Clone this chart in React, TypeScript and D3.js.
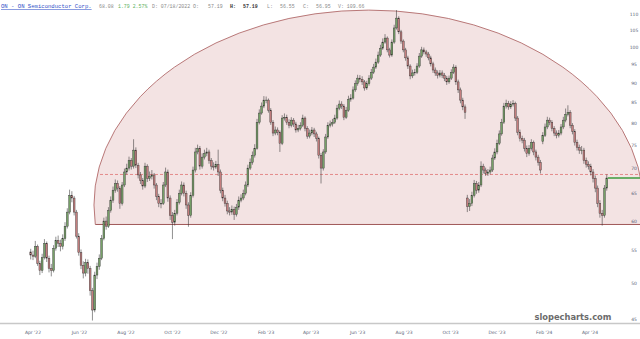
import React from "react";
import * as d3 from "d3";

const W = 640;
const H = 339;

// candle series: one candle every `stepDays` calendar days from startDate
const startDate = "2022-03-29";
const stepDays = 3;

const opens = [
  54.8,54.3,54.1,55.7,53.0,51.9,53.9,56.2,53.8,52.2,
  51.9,55.4,56.7,56.2,55.7,57.0,59.1,61.6,64.7,64.2,
  61.6,57.4,54.7,52.7,51.5,53.1,52.2,48.9,46.2,51.2,
  52.5,53.8,57.0,60.0,59.1,61.9,63.8,65.7,67.0,66.1,
  63.2,66.7,69.3,70.1,71.7,70.5,73.9,70.7,68.7,67.6,
  66.5,70.5,68.0,68.4,68.7,66.7,64.5,63.2,63.2,66.7,
  69.3,64.2,61.0,59.8,61.4,63.4,65.1,66.7,65.1,62.9,
  61.0,64.7,69.7,73.5,74.3,70.5,72.4,73.2,73.5,71.7,
  70.5,70.3,70.9,69.3,65.7,64.2,63.2,61.8,61.6,62.1,
  61.2,62.5,63.8,64.2,65.1,66.7,70.1,71.3,72.8,74.3,
  80.2,82.4,84.1,85.6,85.6,83.1,80.2,77.7,78.4,77.9,
  75.4,81.2,81.4,80.2,79.5,80.7,79.8,78.4,78.8,79.5,
  81.2,78.8,77.0,77.7,78.4,77.5,76.5,72.8,70.1,73.5,
  76.8,79.5,79.8,80.2,81.2,83.6,84.6,84.1,81.4,83.1,
  85.8,86.1,88.2,89.8,91.3,91.0,90.3,88.7,89.8,91.3,
  92.9,94.3,95.7,97.7,99.7,101.5,102.7,99.2,97.7,101.5,
  105.8,108.9,104.6,101.8,99.2,96.9,94.6,91.9,92.7,92.9,
  94.6,97.4,99.2,98.6,98.0,96.9,95.2,93.5,92.7,92.1,
  92.7,92.1,91.3,90.3,91.3,92.9,94.3,90.3,88.2,85.6,
  83.9,64.2,62.6,63.2,64.7,67.0,65.7,66.7,70.5,69.7,
  69.0,69.3,69.7,72.2,73.5,75.4,77.5,80.2,84.1,84.8,
  83.9,84.6,84.8,81.2,77.9,76.5,76.1,74.3,73.2,74.3,
  75.6,73.5,72.4,71.3,75.8,77.2,79.1,80.7,80.2,78.8,
  77.7,77.2,77.7,79.1,80.7,82.1,82.6,79.5,78.1,75.6,
  74.5,73.9,73.9,71.7,70.9,70.5,69.3,68.0,66.1,63.2,
  61.4,61.0,66.1,
];

const closes = [
  54.3,54.1,55.7,53.0,51.9,53.9,56.2,53.8,52.2,51.9,
  55.4,56.7,56.2,55.7,57.0,59.1,61.6,64.7,64.2,61.6,
  57.4,54.7,52.7,51.5,53.1,52.2,48.9,46.2,51.2,52.5,
  53.8,57.0,60.0,59.1,61.9,63.8,65.7,67.0,66.1,63.2,
  66.7,69.3,70.1,71.7,70.5,73.9,70.7,68.7,67.6,66.5,
  70.5,68.0,68.4,68.7,66.7,64.5,63.2,63.2,66.7,69.3,
  64.2,61.0,59.8,61.4,63.4,65.1,66.7,65.1,62.9,61.0,
  64.7,69.7,73.5,74.3,70.5,72.4,73.2,73.5,71.7,70.5,
  70.3,70.9,69.3,65.7,64.2,63.2,61.8,61.6,62.1,61.2,
  62.5,63.8,64.2,65.1,66.7,70.1,71.3,72.8,74.3,80.2,
  82.4,84.1,85.6,85.6,83.1,80.2,77.7,78.4,77.9,75.4,
  81.2,81.4,80.2,79.5,80.7,79.8,78.4,78.8,79.5,81.2,
  78.8,77.0,77.7,78.4,77.5,76.5,72.8,70.1,73.5,76.8,
  79.5,79.8,80.2,81.2,83.6,84.6,84.1,81.4,83.1,85.8,
  86.1,88.2,89.8,91.3,91.0,90.3,88.7,89.8,91.3,92.9,
  94.3,95.7,97.7,99.7,101.5,102.7,99.2,97.7,101.5,105.8,
  108.9,104.6,101.8,99.2,96.9,94.6,91.9,92.7,92.9,94.6,
  97.4,99.2,98.6,98.0,96.9,95.2,93.5,92.7,92.1,92.7,
  92.1,91.3,90.3,91.3,92.9,94.3,90.3,88.2,85.6,83.9,
  82.6,62.6,63.2,64.7,67.0,65.7,66.7,70.5,69.7,69.0,
  69.3,69.7,72.2,73.5,75.4,77.5,80.2,84.1,84.8,83.9,
  84.6,84.8,81.2,77.9,76.5,76.1,74.3,73.2,74.3,75.6,
  73.5,72.4,71.3,69.7,77.2,79.1,80.7,80.2,78.8,77.7,
  77.2,77.7,79.1,80.7,82.1,82.6,79.5,78.1,75.6,74.5,
  73.9,73.9,71.7,70.9,70.5,69.3,68.0,66.1,63.2,61.4,
  61.0,66.1,68.08,
];

const highs = [
  55.3,55.0,56.6,56.0,53.4,54.5,56.9,56.5,54.2,52.9,
  55.9,57.3,57.5,56.8,57.7,59.8,62.3,65.8,65.5,64.6,
  62.0,57.9,55.2,53.3,53.7,53.6,52.6,49.3,51.7,53.1,
  54.4,57.6,60.6,60.8,62.5,64.5,66.4,67.8,67.6,66.5,
  67.3,70.0,71.0,72.5,72.2,76.3,74.5,71.2,69.3,68.1,
  71.2,70.9,69.4,69.7,69.1,67.1,65.0,64.0,67.3,70.2,
  69.8,64.7,61.6,62.0,64.0,65.8,67.4,67.2,65.6,63.4,
  65.3,70.4,74.4,75.1,74.8,73.2,74.0,74.4,74.0,72.2,
  71.3,71.6,74.0,69.8,66.2,64.8,63.7,62.5,62.8,62.6,
  63.1,64.5,64.9,65.8,67.4,70.8,72.1,73.6,75.2,81.0,
  83.3,85.0,86.6,86.5,86.0,83.6,80.7,79.2,79.0,78.3,
  81.9,82.3,82.0,80.9,81.4,81.2,80.3,79.6,80.2,82.0,
  81.6,79.3,78.5,79.1,78.9,78.0,76.9,73.3,74.1,77.5,
  80.2,80.6,81.0,82.0,84.4,85.5,85.3,84.6,83.9,86.7,
  87.1,89.1,90.7,92.2,92.1,91.8,90.8,90.6,92.1,93.8,
  95.2,96.7,98.7,100.7,102.6,103.9,103.2,99.8,102.3,106.8,
  111.5,109.5,105.2,102.3,99.8,97.5,95.1,93.6,93.8,95.4,
  98.3,100.1,99.9,99.2,98.6,97.5,95.8,94.2,93.4,93.5,
  93.4,92.7,91.9,92.0,93.7,95.1,94.8,90.9,88.8,86.2,
  84.5,64.8,64.0,65.4,67.7,67.5,67.3,71.5,71.0,70.2,
  69.9,70.4,72.9,74.3,76.2,78.3,81.0,84.9,85.7,85.4,
  85.3,85.6,85.2,81.7,78.5,77.1,76.6,74.9,75.0,76.3,
  76.0,74.0,72.9,71.8,77.9,79.9,81.5,81.3,80.7,79.3,
  78.3,78.4,79.8,81.5,83.5,84.3,83.1,80.0,78.6,76.2,
  75.1,74.8,74.4,72.3,71.5,71.0,69.9,68.6,66.6,63.8,
  62.0,66.7,68.8,
];

const lows = [
  53.6,53.5,53.8,52.6,51.2,51.5,53.6,53.2,51.6,51.0,
  51.6,55.0,55.6,54.9,55.2,56.6,58.7,61.2,63.4,61.0,
  57.0,54.2,52.1,50.7,51.0,51.4,48.2,44.8,45.9,50.6,
  52.0,53.5,56.7,58.5,58.8,61.5,63.3,65.2,65.4,62.2,
  62.8,66.3,68.8,69.6,69.8,70.0,70.1,68.0,66.9,65.8,
  66.1,67.3,67.5,67.8,66.0,63.8,62.5,62.3,62.9,66.3,
  63.5,60.2,56.9,59.2,61.0,63.0,64.7,64.5,62.2,59.0,
  60.6,64.3,69.2,73.0,69.8,70.0,71.9,72.6,71.0,69.8,
  69.6,69.9,68.5,65.1,63.6,62.6,61.2,61.0,61.1,60.2,
  60.8,62.0,63.4,63.8,64.7,66.3,69.7,70.8,72.3,74.0,
  79.7,82.0,83.6,84.8,82.5,79.6,77.0,77.2,77.2,73.5,
  75.0,80.6,79.6,78.8,79.0,79.1,77.8,77.9,78.3,79.1,
  78.1,76.4,76.5,77.2,76.8,75.8,72.1,67.0,69.6,73.1,
  76.4,79.0,79.2,79.8,80.8,83.1,83.4,80.7,81.0,82.7,
  85.2,85.7,87.7,89.3,90.2,89.5,88.0,88.2,89.3,90.8,
  92.4,93.8,95.2,97.2,99.2,101.0,98.5,97.0,97.2,101.0,
  105.3,103.9,101.0,98.5,96.1,93.8,91.0,91.3,92.0,92.4,
  94.1,96.9,97.9,97.2,96.2,94.5,92.7,91.9,91.2,91.5,
  91.3,90.5,89.5,89.8,90.8,92.4,89.5,87.4,84.8,83.1,
  81.0,61.6,61.8,62.7,64.3,65.0,65.2,66.3,69.0,68.5,
  68.5,68.8,69.3,71.8,73.0,75.0,77.1,79.8,83.5,83.2,
  83.4,84.0,80.5,77.2,75.8,75.4,73.6,72.4,72.7,73.8,
  72.8,71.7,70.6,69.0,75.2,76.8,78.6,79.5,78.1,77.0,
  76.5,76.7,77.2,78.6,80.2,81.6,78.8,77.4,74.9,73.8,
  73.1,73.0,71.0,70.2,69.8,68.6,67.2,65.3,62.5,60.6,
  59.2,60.6,65.6,
];

const priceTicks = [45, 50, 55, 60, 65, 70, 75, 80, 85, 90, 95, 100, 105, 110];
const monthTicks = [
  "2022-04-01", "2022-06-01", "2022-08-01", "2022-10-01", "2022-12-01",
  "2023-02-01", "2023-04-01", "2023-06-01", "2023-08-01", "2023-10-01",
  "2023-12-01", "2024-02-01", "2024-04-01",
];

const lastPrice = 68.08;
const dashedLevel = 68.8;
// arc (half-ellipse) annotation, in data terms
const arcStart = "2022-06-20";
const arcEnd = "2024-06-10";
const arcTopPrice = 111.5;
const arcCenterPrice = 62.9;
const arcBasePrice = 59.4;

const headerParts = [
  { t: "ON - ON Semiconductor Corp.", x: 1, c: "#2f4fc8", u: true, b: false, s: 5.6 },
  { t: "68.08", x: 99, c: "#8a8a8a", u: false, b: false, s: 4.9 },
  { t: "1.79 2.57%", x: 118, c: "#5db05d", u: false, b: false, s: 4.9 },
  { t: "D: 07/18/2022 O:", x: 152, c: "#8a8a8a", u: false, b: false, s: 4.9 },
  { t: "57.19", x: 208, c: "#8a8a8a", u: false, b: false, s: 4.9 },
  { t: "H:", x: 230, c: "#333333", u: false, b: true, s: 4.9 },
  { t: "57.19", x: 243, c: "#333333", u: false, b: true, s: 4.9 },
  { t: "L:", x: 267, c: "#8a8a8a", u: false, b: false, s: 4.9 },
  { t: "56.55", x: 280, c: "#8a8a8a", u: false, b: false, s: 4.9 },
  { t: "C:", x: 303, c: "#8a8a8a", u: false, b: false, s: 4.9 },
  { t: "56.95", x: 316, c: "#8a8a8a", u: false, b: false, s: 4.9 },
  { t: "V: 109.66", x: 338, c: "#8a8a8a", u: false, b: false, s: 4.9 },
];

export default function App() {
  const parse = d3.timeParse("%Y-%m-%d");
  const x = d3
    .scaleTime()
    .domain([parse("2022-04-01")!, parse("2024-04-01")!])
    .range([33, 590]);
  const y = d3.scaleLog().domain([45, 110]).range([319, 14.7]);
  const fmt = d3.timeFormat("%b '%y");

  const start = parse(startDate)!;
  const candles = closes.map((c, i) => ({
    date: d3.timeDay.offset(start, i * stepDays),
    o: opens[i],
    h: highs[i],
    l: lows[i],
    c,
  }));
  const last = candles[candles.length - 1];

  const axL = x(parse(arcStart)!);
  const axR = x(parse(arcEnd)!);
  const ecx = (axL + axR) / 2;
  const erx = (axR - axL) / 2;
  const ecy = y(arcCenterPrice);
  const ery = ecy - y(arcTopPrice);
  const baseY = y(arcBasePrice);

  const bodyW = 1.8;

  return (
    <svg
      width={W}
      height={H}
      viewBox={`0 0 ${W} ${H}`}
      style={{ position: "absolute", left: 0, top: 0, background: "#fff" }}
    >
      <defs>
        <clipPath id="arcClip">
          <rect x={0} y={0} width={W} height={baseY} />
        </clipPath>
        <clipPath id="ellClip">
          <ellipse cx={ecx} cy={ecy} rx={erx} ry={ery} />
        </clipPath>
      </defs>
      <rect x={0} y={0} width={W} height={H} fill="#ffffff" />

      {/* arc annotation */}
      <g clipPath="url(#arcClip)">
        <ellipse
          cx={ecx}
          cy={ecy}
          rx={erx}
          ry={ery}
          fill="#f3e3e3"
          stroke="#a85a5a"
          strokeWidth={0.8}
        />
      </g>
      <g clipPath="url(#ellClip)">
        <line x1={0} x2={W} y1={baseY} y2={baseY} stroke="#a05858" strokeWidth={1} />
        <line
          x1={0}
          x2={W}
          y1={y(dashedLevel)}
          y2={y(dashedLevel)}
          stroke="#e07272"
          strokeWidth={0.8}
          strokeDasharray="3,2"
        />
      </g>

      {/* candles */}
      <g>
        {candles.map((d, i) => {
          const cx = x(d.date);
          const up = d.c >= d.o;
          const top = y(Math.max(d.o, d.c));
          const bot = y(Math.min(d.o, d.c));
          return (
            <g key={i}>
              <line x1={cx} x2={cx} y1={y(d.h)} y2={y(d.l)} stroke="#333333" strokeWidth={0.55} />
              <rect
                x={cx - bodyW / 2}
                y={top}
                width={bodyW}
                height={Math.max(0.6, bot - top)}
                fill={up ? "#76a067" : "#c47e7e"}
                stroke="#333333"
                strokeWidth={0.4}
              />
            </g>
          );
        })}
      </g>

      {/* last price line */}
      <line
        x1={x(last.date) + 1}
        x2={W}
        y1={y(lastPrice)}
        y2={y(lastPrice)}
        stroke="#3d9b3d"
        strokeWidth={1.6}
      />

      {/* right price labels */}
      <g fontFamily="DejaVu Sans, sans-serif" fontSize={4.5} fill="#5a5f78" textAnchor="middle">
        {priceTicks.map((p) => (
          <text key={p} x={634} y={y(p) + 1.6}>
            {p}
          </text>
        ))}
      </g>

      {/* bottom axis */}
      <line x1={0} x2={W} y1={323.5} y2={323.5} stroke="#c8c8c8" strokeWidth={1.5} />
      <g fontFamily="DejaVu Sans, sans-serif" fontSize={4.5} fill="#5a5f78" textAnchor="middle">
        {monthTicks.map((m) => (
          <text key={m} x={x(parse(m)!)} y={333.5}>
            {fmt(parse(m)!)}
          </text>
        ))}
      </g>

      {/* watermark */}
      <text
        x={573}
        y={320}
        textAnchor="middle"
        fontFamily="DejaVu Sans, sans-serif"
        fontWeight="bold"
        fontSize={8.3}
        fill="#6b6b6b"
      >
        slopecharts.com
      </text>

      {/* header */}
      <g fontFamily="Liberation Mono, monospace">
        {headerParts.map((p, i) => (
          <text
            key={i}
            x={p.x}
            y={8}
            fontSize={p.s}
            fill={p.c}
            fontWeight={p.b ? "bold" : "normal"}
            textDecoration={p.u ? "underline" : undefined}
          >
            {p.t}
          </text>
        ))}
      </g>
    </svg>
  );
}
